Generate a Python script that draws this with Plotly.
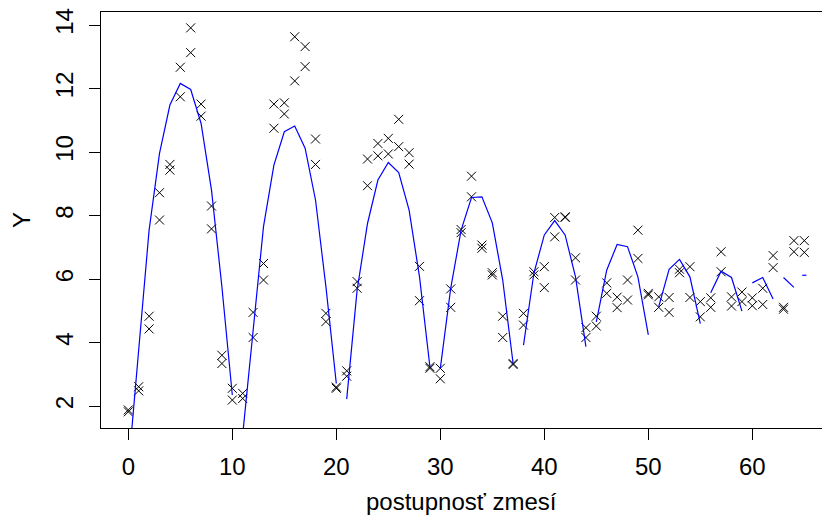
import plotly.graph_objects as go

# ---- data ----
mix_index = list(range(66))
y_rep_a = [1.88, 2.61, 4.83, 8.72, 9.61, 12.67, 13.91, 11.51, 8.30, 3.60,
           2.56, 2.40, 4.95, 6.49, 11.51, 11.55, 13.63, 13.32, 10.41, 4.92,
           2.60, 3.11, 5.92, 9.78, 10.27, 10.43, 11.03, 9.98, 6.40, 3.24,
           3.19, 5.69, 7.56, 9.24, 7.07, 6.20, 4.83, 3.34, 4.92, 6.23,
           6.39, 7.94, 7.96, 6.67, 4.47, 4.83, 5.88, 5.43, 5.97, 7.54,
           5.55, 5.44, 5.42, 6.31, 6.39, 5.29, 5.41, 6.86, 5.44, 5.59,
           5.41, 5.71, 6.74, 5.11, 7.21, 7.21]
y_rep_b = [1.82, 2.48, 4.43, 7.86, 9.43, 11.74, 13.13, 11.13, 7.58, 3.34,
           2.19, 2.24, 4.16, 5.97, 10.75, 11.20, 12.24, 12.69, 9.61, 4.66,
           2.56, 2.94, 5.71, 8.94, 9.88, 9.94, 10.17, 9.62, 5.32, 3.19,
           2.86, 5.11, 7.46, 8.59, 6.97, 6.13, 4.16, 3.31, 4.55, 6.13,
           5.73, 7.33, 7.94, 5.97, 4.16, 4.52, 5.55, 5.10, 5.34, 6.65,
           5.50, 5.11, 4.95, 6.20, 5.42, 4.81, 5.11, 6.23, 5.15, 5.29,
           5.16, 5.20, 6.36, 5.05, 6.86, 6.84]
fit_values = [0.00, 3.84, 7.54, 9.96, 11.48, 12.16, 11.97, 10.90, 8.80, 5.76, 2.35,
              1.10, 4.30, 7.65, 9.59, 10.64, 10.82, 10.12, 8.49, 5.76, 2.71,
              2.22, 5.65, 7.75, 9.12, 9.67, 9.35, 8.17, 6.07, 3.24,
              3.19, 5.71, 7.54, 8.57, 8.59, 7.77, 5.97, 3.34,
              3.92, 6.19, 7.39, 7.84, 7.39, 6.07, 3.87,
              4.65, 6.28, 7.09, 7.02, 6.07, 4.24,
              5.13, 6.31, 6.62, 6.07, 4.60,
              5.57, 6.25, 6.05, 4.99,
              5.88, 6.05, 5.37,
              6.05, 5.74,
              6.12]
segment_lengths = [11, 10, 9, 8, 7, 6, 5, 4, 3, 2, 1]
x_ticks = [0, 10, 20, 30, 40, 50, 60]
y_ticks = [2, 4, 6, 8, 10, 12, 14]

# build broken fitted line (gap between segments)
line_x, line_y, single_x, single_y = [], [], [], []
start = 0
for n in segment_lengths:
    xs = mix_index[start:start + n]
    ys = fit_values[start:start + n]
    if n == 1:
        single_x += xs
        single_y += ys
    line_x += xs + [None]
    line_y += ys + [None]
    start += n

FONT = "Liberation Sans, Arial, Helvetica, sans-serif"

fig = go.Figure()
fig.add_trace(go.Scatter(
    x=mix_index + mix_index, y=y_rep_a + y_rep_b, mode="markers",
    marker=dict(symbol="x-thin-open", size=9, color="black",
                line=dict(color="black", width=1)),
    showlegend=False, cliponaxis=True))
fig.add_trace(go.Scatter(
    x=line_x, y=line_y, mode="lines", connectgaps=False,
    line=dict(color="#0000FF", width=1.2), showlegend=False))
fig.add_trace(go.Scatter(
    x=single_x, y=single_y, mode="markers",
    marker=dict(symbol="line-ew-open", size=3, color="#0000FF",
                line=dict(color="#0000FF", width=1.2)),
    showlegend=False))

fig.update_layout(
    width=822, height=518,
    margin=dict(l=101, r=0, t=12, b=90),
    paper_bgcolor="white", plot_bgcolor="white",
    font=dict(family=FONT, size=24, color="black"),
    xaxis=dict(range=[-2.625, 66.7], tickvals=x_ticks, ticktext=[str(v) for v in x_ticks],
               showgrid=False, zeroline=False, showline=True, linecolor="black",
               linewidth=1, mirror=True, ticks="outside", ticklen=11,
               tickcolor="black", tickwidth=1, tickfont=dict(size=24),
               ticklabelstandoff=6, automargin=False),
    yaxis=dict(range=[1.31, 14.41], tickvals=y_ticks, ticktext=[str(v) for v in y_ticks],
               showgrid=False, zeroline=False, showline=True, linecolor="black",
               linewidth=1, mirror=False, ticks="outside", ticklen=11,
               tickcolor="black", tickwidth=1, tickangle=-90, tickfont=dict(size=24),
               ticklabelstandoff=6, automargin=False),
    annotations=[
        dict(text="postupnosť zmesí", xref="paper", yref="paper",
             x=(461 - 101) / 721, y=-(501 - 428) / 416, xanchor="center", yanchor="middle",
             showarrow=False, font=dict(size=24)),
        dict(text="Y", xref="paper", yref="paper", textangle=-90,
             x=(21 - 101) / 721, y=(428 - 220) / 416, xanchor="center", yanchor="middle",
             showarrow=False, font=dict(size=24)),
    ],
)

fig.write_html("out.html")
